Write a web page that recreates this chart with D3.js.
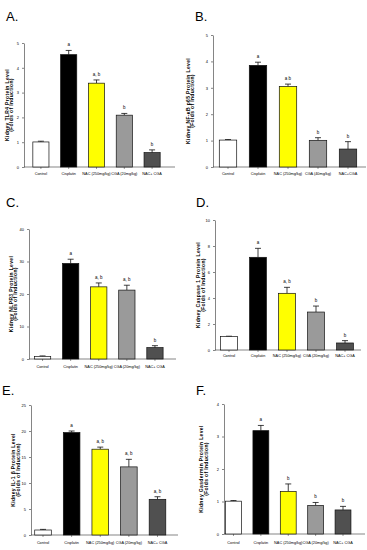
<!DOCTYPE html>
<html>
<head>
<meta charset="utf-8">
<script src="https://cdn.jsdelivr.net/npm/d3@7"></script>
<style>
  body { margin: 0; background: #fff; }
  svg { display: block; font-family: "Liberation Sans", Arial, sans-serif; }
  .domain, .tick line { stroke: #333; stroke-width: 0.6; }
</style>
</head>
<body>
<svg id="chart" width="367" height="550"></svg>
<script>
// groups
var groups   = ["Control", "Cisplatin", "NAC (250mg/kg)", "CGA (20mg/kg)", "NAC+ CGA"];
var groupsB  = ["Control", "Cisplatin", "NAC (250mg/kg)", "CGA (40mg/kg)", "NAC+CGA"];
var colors   = ["#ffffff", "#000000", "#ffff00", "#9a9a9a", "#505050"];

// values (mean, upper error)
var tlr4     = [1.01, 4.53, 3.38, 2.09, 0.58];
var tlr4Err  = [0.03, 0.17, 0.13, 0.07, 0.11];
var nfkb     = [1.02, 3.85, 3.05, 1.01, 0.68];
var nfkbErr  = [0.02, 0.12, 0.09, 0.10, 0.28];
var nlrp3    = [0.8, 29.4, 22.2, 21.2, 3.5];
var nlrp3Err = [0.15, 1.3, 1.2, 1.5, 0.6];
var casp1    = [1.03, 7.13, 4.36, 2.92, 0.54];
var casp1Err = [0.03, 0.69, 0.46, 0.46, 0.18];
var il1b     = [0.96, 19.7, 16.5, 13.1, 6.86];
var il1bErr  = [0.12, 0.3, 0.4, 1.45, 0.5];
var gsdm     = [1.01, 3.18, 1.31, 0.88, 0.74];
var gsdmErr  = [0.02, 0.16, 0.23, 0.09, 0.11];

var sigA = ["", "a", "a, b", "b", "b"];
var sigB = ["", "a", "a b", "b", "b"];
var sigC = ["", "a", "a, b", "a, b", "b"];
var sigD = ["", "a", "a, b", "b", "b"];
var sigE = ["", "a", "a, b", "a, b", "a, b"];
var sigF = ["", "a", "b", "b", "b"];

var yTicksA = [0, 1, 2, 3, 4, 5];
var yTicksC = [0, 10, 20, 30, 40];
var yTicksD = [0, 2, 4, 6, 8, 10];
var yTicksE = [0, 5, 10, 15, 20, 25];
var yTicksF = [0, 1, 2, 3, 4];

var panels = [
  {letter: "A.", lx: 6, ly: 21, title: "Kidney TLR4 Protein Level", tx: 8.8,
   vals: tlr4, errs: tlr4Err, sig: sigA, cats: groups, ticks: yTicksA,
   ax: 24, top: 43, base: 167, x0: 27, x1: 166, xend: 175, lab: 173},
  {letter: "B.", lx: 195, ly: 21, title: "Kidney NF-\u03baB p65 Protein Level", tx: 189.8,
   vals: nfkb, errs: nfkbErr, sig: sigB, cats: groupsB, ticks: yTicksA,
   ax: 213, top: 35, base: 167, x0: 213, x1: 363, xend: 366, lab: 173},
  {letter: "C.", lx: 6, ly: 207, title: "Kidney NLPR3 Protein Level", tx: 12.8,
   vals: nlrp3, errs: nlrp3Err, sig: sigC, cats: groups, ticks: yTicksC,
   ax: 29, top: 229, base: 359, x0: 28.5, x1: 169, xend: 176, lab: 366},
  {letter: "D.", lx: 196, ly: 207, title: "Kidney Caspase 1 Protein Level", tx: 200.3,
   vals: casp1, errs: casp1Err, sig: sigD, cats: groups, ticks: yTicksD,
   ax: 215, top: 220, base: 350, x0: 214.5, x1: 359.5, xend: 361, lab: 355},
  {letter: "E.", lx: 2, ly: 395, title: "Kidney IL-1 \u03b2 Protein Level", tx: 15.3,
   vals: il1b, errs: il1bErr, sig: sigE, cats: groups, ticks: yTicksE,
   ax: 31, top: 405, base: 535, x0: 28.7, x1: 171.8, xend: 178, lab: 542},
  {letter: "F.", lx: 196, ly: 395, title: "Kidney Gasdermin Protein Level", tx: 203.3,
   vals: gsdm, errs: gsdmErr, sig: sigF, cats: groups, ticks: yTicksF,
   ax: 224, top: 404, base: 534, x0: 219.8, x1: 356.7, xend: 365, lab: 542}
];

var svg = d3.select("#chart");

panels.forEach(function(p) {
  var g = svg.append("g");
  var yMax = p.ticks[p.ticks.length - 1];
  var y = d3.scaleLinear().domain([0, yMax]).range([p.base, p.top]);
  var x = d3.scaleBand().domain(p.cats).range([p.x0, p.x1]).paddingInner(0.42).paddingOuter(0.21);

  // panel letter
  g.append("text").attr("x", p.lx).attr("y", p.ly)
    .attr("font-size", 13).attr("font-family", "'Liberation Sans Narrow', 'Liberation Sans', sans-serif")
    .text(p.letter);

  // y axis
  var ya = g.append("g").attr("transform", "translate(" + p.ax + ",0)")
    .call(d3.axisLeft(y).tickValues(p.ticks).tickFormat(d3.format("d"))
      .tickSize(2).tickSizeOuter(0).tickPadding(3));
  ya.selectAll("text").attr("font-size", 4).attr("fill", "#000");

  // x axis
  g.append("line").attr("x1", p.ax).attr("x2", p.xend)
    .attr("y1", p.base).attr("y2", p.base)
    .attr("stroke", "#333").attr("stroke-width", 0.6);
  g.selectAll(".xt").data(p.cats).enter().append("line")
    .attr("x1", function(d){ return x(d) + x.bandwidth()/2; })
    .attr("x2", function(d){ return x(d) + x.bandwidth()/2; })
    .attr("y1", p.base).attr("y2", p.base + 2)
    .attr("stroke", "#333").attr("stroke-width", 0.5);
  g.selectAll(".xl").data(p.cats).enter().append("text")
    .attr("x", function(d){ return x(d) + x.bandwidth()/2; })
    .attr("y", p.lab + 1.5)
    .attr("text-anchor", "middle").attr("font-size", 3.8).attr("fill", "#000")
    .attr("font-family", "'Liberation Sans Narrow', 'Liberation Sans', sans-serif")
    .text(function(d){ return d; });

  // y title
  var t = g.append("text")
    .attr("transform", "translate(" + p.tx + "," + ((p.top + p.base)/2) + ") rotate(-90)")
    .attr("text-anchor", "middle").attr("font-size", 5).attr("font-weight", "bold")
    .attr("letter-spacing", 0.35).attr("fill", "#000");
  t.append("tspan").attr("x", 0).attr("dy", 0).text(p.title);
  t.append("tspan").attr("x", 0).attr("dy", 4.6).text("(Folds of Induction)");

  var rows = p.vals.map(function(v, i){ return {c: p.cats[i], v: v, e: p.errs[i], s: p.sig[i], col: colors[i]}; });

  // error bars (upper only)
  var eb = g.selectAll(".eb").data(rows).enter().append("g");
  eb.append("line")
    .attr("x1", function(d){ return x(d.c) + x.bandwidth()/2; })
    .attr("x2", function(d){ return x(d.c) + x.bandwidth()/2; })
    .attr("y1", function(d){ return y(d.v); })
    .attr("y2", function(d){ return y(d.v + d.e); })
    .attr("stroke", "#111").attr("stroke-width", 0.8);
  eb.append("line")
    .attr("x1", function(d){ return x(d.c) + x.bandwidth()/2 - 3; })
    .attr("x2", function(d){ return x(d.c) + x.bandwidth()/2 + 3; })
    .attr("y1", function(d){ return y(d.v + d.e); })
    .attr("y2", function(d){ return y(d.v + d.e); })
    .attr("stroke", "#111").attr("stroke-width", 0.8);

  // bars
  g.selectAll(".bar").data(rows).enter().append("rect")
    .attr("x", function(d){ return x(d.c); })
    .attr("width", x.bandwidth())
    .attr("y", function(d){ return y(d.v); })
    .attr("height", function(d){ return p.base - y(d.v); })
    .attr("fill", function(d){ return d.col; })
    .attr("stroke", "#111").attr("stroke-width", 0.7);

  // significance letters
  g.selectAll(".sig").data(rows).enter().append("text")
    .attr("x", function(d){ return x(d.c) + x.bandwidth()/2; })
    .attr("y", function(d){ return y(d.v + d.e) - 4; })
    .attr("text-anchor", "middle").attr("font-size", 4.5).attr("fill", "#000")
    .text(function(d){ return d.s; });
});
</script>
</body>
</html>
